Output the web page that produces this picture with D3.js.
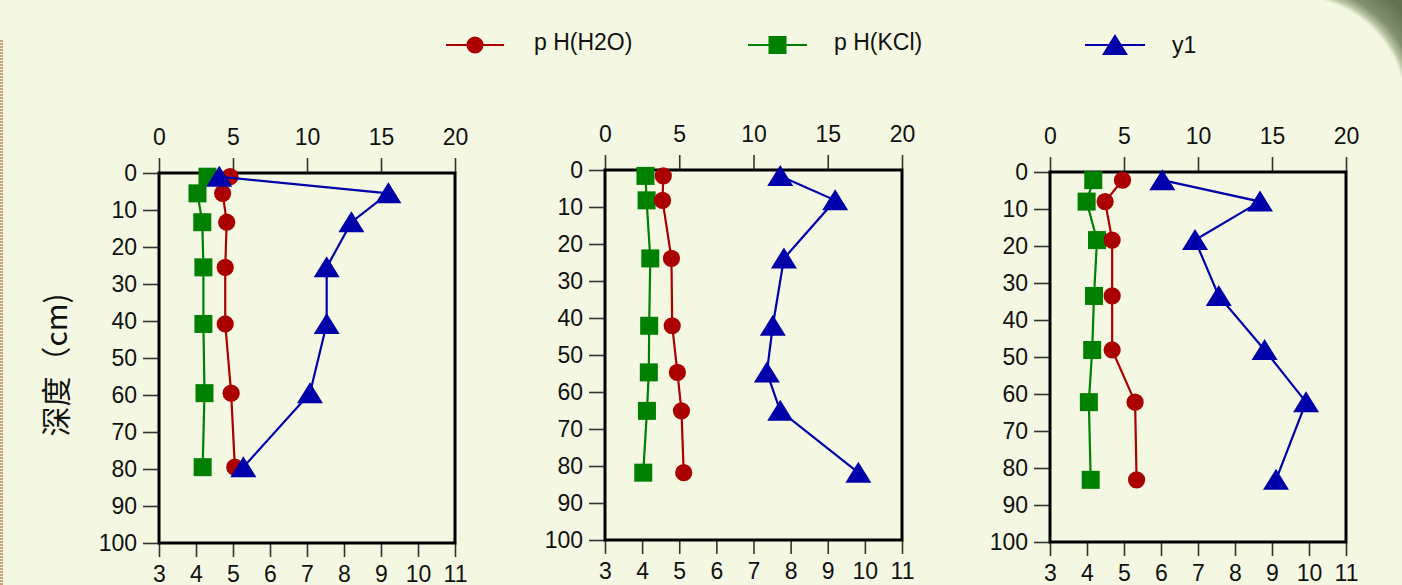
<!DOCTYPE html>
<html>
<head>
<meta charset="utf-8">
<script src="https://cdn.jsdelivr.net/npm/d3@7"></script>
<style>
  html, body { margin: 0; padding: 0; background: #f4f8e2; }
  svg { display: block; }
  text { font-family: "Liberation Sans", Arial, sans-serif; fill: #111; }
</style>
</head>
<body>
<svg id="chart" width="1402" height="585"></svg>
<script>
// depth (cm) of each sample, one list per profile
const depth1 = [1, 5.5, 13.3, 25.5, 40.8, 59.5, 79.5];
const depth2 = [1.6, 8.2, 23.9, 42.1, 54.7, 65.1, 81.8];
const depth3 = [2.2, 8.0, 18.4, 33.5, 48.1, 62.2, 83.2];

// pH(H2O)
const phH2O1 = [4.92, 4.72, 4.83, 4.79, 4.79, 4.95, 5.05];
const phH2O2 = [4.57, 4.55, 4.79, 4.81, 4.95, 5.06, 5.12];
const phH2O3 = [4.96, 4.49, 4.68, 4.68, 4.68, 5.30, 5.34];

// pH(KCl)
const phKCl1 = [4.31, 4.04, 4.17, 4.20, 4.20, 4.23, 4.18];
const phKCl2 = [4.09, 4.12, 4.22, 4.19, 4.18, 4.13, 4.03];
const phKCl3 = [4.17, 3.99, 4.27, 4.19, 4.14, 4.05, 4.10];

// y1 (top axis)
const y1a = [4.07, 15.5, 13.0, 11.33, 11.33, 10.2, 5.7];
const y1b = [11.8, 15.5, 12.05, 11.3, 10.9, 11.8, 17.06];
const y1c = [7.59, 14.19, 9.8, 11.4, 14.5, 17.3, 15.27];

const phTicks = [3, 4, 5, 6, 7, 8, 9, 10, 11];
const y1Ticks = [0, 5, 10, 15, 20];
const depthTicks = [0, 10, 20, 30, 40, 50, 60, 70, 80, 90, 100];

const seriesNames = ["p H(H2O)", "p H(KCl)", "y1"];
const colors = {h2o: "#aa0000", kcl: "#008000", y1: "#0000aa"};

const svg = d3.select("#chart");
const W = 1402, H = 585;

// decorations: rounded frame corner at top right, thin strip at left edge
const defs = svg.append("defs");
const cornerR = 115, ccx = 1295, ccy = 107;
const rg = defs.append("radialGradient").attr("id", "corner")
    .attr("gradientUnits", "userSpaceOnUse")
    .attr("cx", ccx).attr("cy", ccy).attr("r", cornerR + 30);
rg.append("stop").attr("offset", (cornerR - 5) / (cornerR + 30)).attr("stop-color", "#f4f8e2");
rg.append("stop").attr("offset", cornerR / (cornerR + 30)).attr("stop-color", "#b7c4a3");
rg.append("stop").attr("offset", (cornerR + 8) / (cornerR + 30)).attr("stop-color", "#7f916d");
rg.append("stop").attr("offset", 1).attr("stop-color", "#5f7251");
const ri = cornerR - 8;
svg.append("path")
    .attr("d", `M${ccx},-20L${ccx},${ccy - ri}A${ri},${ri} 0 0 1 ${ccx + ri},${ccy}L${W + 20},${ccy}L${W + 20},-20Z`)
    .attr("fill", "url(#corner)");

svg.append("line").attr("x1", 1.5).attr("x2", 1.5).attr("y1", 40).attr("y2", H)
    .attr("stroke", "#c9a27a").attr("stroke-width", 3).attr("stroke-dasharray", "2,1");

const tri = "M0,-11L13,10L-13,10Z";

const panels = [
  {left: 159, top: 173, w: 296, depth: depth1, h2o: phH2O1, kcl: phKCl1, y1: y1a},
  {left: 605, top: 170, w: 297, depth: depth2, h2o: phH2O2, kcl: phKCl2, y1: y1b},
  {left: 1050, top: 172, w: 296, depth: depth3, h2o: phH2O3, kcl: phKCl3, y1: y1c}
];
const ph = 370;

panels.forEach(p => {
  const g = svg.append("g").attr("transform", `translate(${p.left},${p.top})`);

  const xPh = d3.scaleLinear().domain([3, 11]).range([0, p.w]);
  const xY1 = d3.scaleLinear().domain([0, 20]).range([0, p.w]);
  const y = d3.scaleLinear().domain([0, 100]).range([0, ph]);

  // axes
  const top = g.append("g")
      .call(d3.axisTop(xY1).tickValues(y1Ticks).tickSize(15).tickSizeOuter(0).tickPadding(13));
  const bottom = g.append("g").attr("transform", `translate(0,${ph})`)
      .call(d3.axisBottom(xPh).tickValues(phTicks).tickSize(14).tickSizeOuter(0).tickPadding(9));
  const left = g.append("g")
      .call(d3.axisLeft(y).tickValues(depthTicks).tickSize(16).tickSizeOuter(0).tickPadding(6));

  [top, bottom, left].forEach(a => {
    a.select(".domain").remove();
    a.selectAll(".tick line").attr("stroke", "#333").attr("stroke-width", 1.6);
    a.selectAll("text").style("font-size", "23px").attr("fill", "#111");
  });

  g.append("rect").attr("width", p.w).attr("height", ph)
      .attr("fill", "none").attr("stroke", "#000").attr("stroke-width", 3);

  // pH(KCl)
  const kcl = p.depth.map((d, i) => [xPh(p.kcl[i]), y(d)]);
  g.append("path").attr("d", d3.line()(kcl)).attr("fill", "none")
      .attr("stroke", colors.kcl).attr("stroke-width", 2.2);
  g.selectAll(null).data(kcl).enter().append("rect")
      .attr("x", d => d[0] - 9).attr("y", d => d[1] - 9)
      .attr("width", 18).attr("height", 18).attr("fill", colors.kcl);

  // pH(H2O)
  const h2o = p.depth.map((d, i) => [xPh(p.h2o[i]), y(d)]);
  g.append("path").attr("d", d3.line()(h2o)).attr("fill", "none")
      .attr("stroke", colors.h2o).attr("stroke-width", 2.2);
  g.selectAll(null).data(h2o).enter().append("circle")
      .attr("cx", d => d[0]).attr("cy", d => d[1]).attr("r", 8.6).attr("fill", colors.h2o);

  // y1
  const yy = p.depth.map((d, i) => [xY1(p.y1[i]), y(d)]);
  g.append("path").attr("d", d3.line()(yy)).attr("fill", "none")
      .attr("stroke", colors.y1).attr("stroke-width", 2.2);
  g.selectAll(null).data(yy).enter().append("path")
      .attr("transform", d => `translate(${d[0]},${d[1]})`)
      .attr("d", tri).attr("fill", colors.y1);
});

// depth label
svg.append("text")
    .attr("transform", "translate(67,365) rotate(-90)")
    .attr("text-anchor", "middle")
    .style("font-family", "'Noto Sans CJK SC', sans-serif")
    .style("font-size", "30px")
    .text("深度（cm)");

// legend
const legend = [
  {name: seriesNames[0], color: colors.h2o, x1: 446, x2: 504, tx: 534, ty: 50, mark: "circle"},
  {name: seriesNames[1], color: colors.kcl, x1: 748, x2: 807, tx: 834, ty: 50, mark: "square"},
  {name: seriesNames[2], color: colors.y1, x1: 1085, x2: 1145, tx: 1172, ty: 53, mark: "tri"}
];
legend.forEach(l => {
  const cx = (l.x1 + l.x2) / 2, cy = 45;
  svg.append("line").attr("x1", l.x1).attr("x2", l.x2).attr("y1", cy).attr("y2", cy)
      .attr("stroke", l.color).attr("stroke-width", 2.2);
  if (l.mark === "circle") {
    svg.append("circle").attr("cx", cx).attr("cy", cy).attr("r", 8.6).attr("fill", l.color);
  } else if (l.mark === "square") {
    svg.append("rect").attr("x", cx - 9).attr("y", cy - 9).attr("width", 18).attr("height", 18).attr("fill", l.color);
  } else {
    svg.append("path").attr("transform", `translate(${cx},${cy})`).attr("d", tri).attr("fill", l.color);
  }
  svg.append("text").attr("x", l.tx).attr("y", l.ty).style("font-size", "23px").text(l.name);
});
</script>
</body>
</html>
